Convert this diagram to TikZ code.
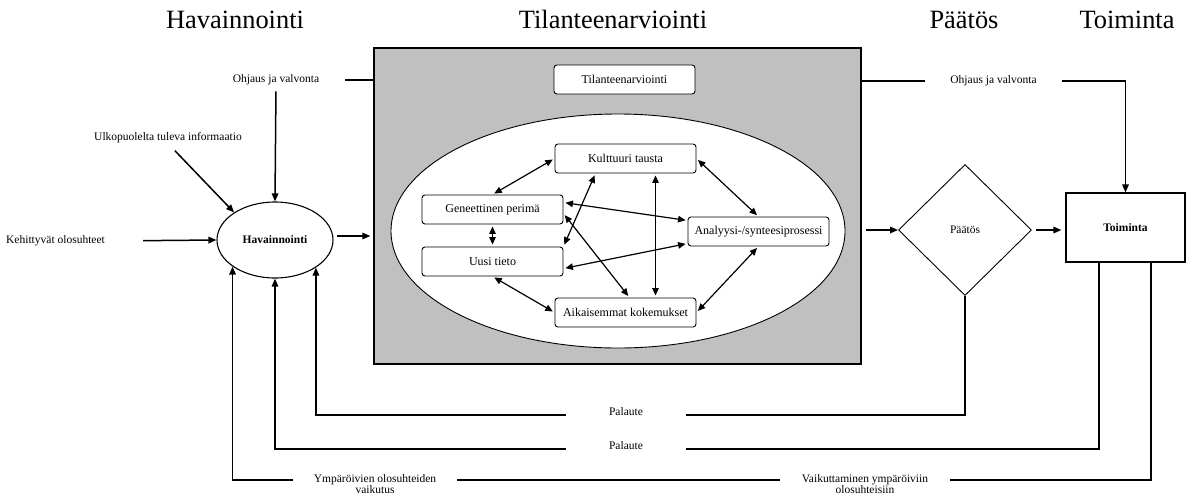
\documentclass[tikz,border=0pt]{standalone}
\usepackage{fontspec}
\setmainfont{Liberation Serif}
\usetikzlibrary{shapes.geometric,arrows.meta}
\definecolor{boxgray}{HTML}{C0C0C0}
\begin{document}
\begin{tikzpicture}[x=1pt,y=-1pt,
    every node/.style={font=\fontsize{11.5}{13}\selectfont},
    headline/.style={font=\fontsize{26.4}{30}\selectfont, anchor=base},
    factor/.style={draw, fill=white, rounded corners=3pt, line width=0.9pt,
      minimum width=141pt, minimum height=29pt, inner sep=0pt,
      font=\fontsize{12}{14}\selectfont},
    gaplabel/.style={inner sep=0pt},
    heavy/.style={font=\fontsize{11.5}{13}\selectfont\bfseries},
    flow/.style={line width=1.5pt, -{Triangle[length=8pt,width=6.5pt]}},
    wire/.style={line width=1.5pt},
    twoway/.style={line width=1.2pt, shorten <=2pt, shorten >=2pt,
      {Triangle[length=7.5pt,width=6.5pt]}-{Triangle[length=7.5pt,width=6.5pt]}}]
      \useasboundingbox (0,0) rectangle (1196,499);
      \draw
        (235,28) node[headline] (t1) {Havainnointi}
        (613,28) node[headline] (t2) {Tilanteenarviointi}
        (964,28) node[headline] (t3) {Päätös}
        (1127,28) node[headline] (t4) {Toiminta};
      % situation assessment block
      \node[draw, line width=1.3pt, fill=boxgray, minimum width=487pt,
        minimum height=316pt] (tbox) at (617.5,206) {};
      \node[factor] (tlab) at (624.5,79.5) {Tilanteenarviointi};
      \node[draw, ellipse, fill=white, line width=0.9pt, minimum width=454pt,
        minimum height=234pt] (oval) at (618,231) {};
      \node[factor] (kult) at (625.5,158.5) {Kulttuuri tausta};
      \node[factor] (gen) at (492.5,209.5) {Geneettinen perimä};
      \node[factor] (uusi) at (492.5,261.5) {Uusi tieto};
      \node[factor] (anal) at (758.5,231.5) {Analyysi-/synteesiprosessi};
      \node[factor] (aik) at (625.5,312.5) {Aikaisemmat kokemukset};
      % main chain
      \node[draw, ellipse, heavy, line width=1.1pt, inner sep=0pt,
        minimum width=116pt, minimum height=76pt] (hav) at (275,240) {Havainnointi};
      \node[draw, diamond, aspect=1, inner sep=0pt, line width=0.9pt,
        minimum width=133pt, minimum height=131pt] (paat) at (965,230) {Päätös};
      \node[draw, heavy, line width=1.1pt, minimum width=119pt,
        minimum height=69pt] (toim) at (1125.5,227.5) {Toiminta};
      % labels on the wires
      \node[gaplabel, minimum width=138pt] (ohjv) at (276,80) {Ohjaus ja valvonta};
      \node[gaplabel, minimum width=137pt] (ohjo) at (993.5,81) {Ohjaus ja valvonta};
      \node[gaplabel] (ulko) at (168,138) {Ulkopuolelta tuleva informaatio};
      \node[gaplabel] (kehi) at (55.5,241) {Kehittyvät olosuhteet};
      \node[gaplabel, minimum width=120pt, anchor=base] (pal1) at (626,415) {Palaute};
      \node[gaplabel, minimum width=120pt, anchor=base] (pal2) at (626,449) {Palaute};
      \node[gaplabel, minimum width=164pt, label distance=2pt,
        label={[gaplabel]below:vaikutus}] (ympv) at (375,480) {Ympäröivien olosuhteiden};
      \node[gaplabel, minimum width=170pt, label distance=2pt,
        label={[gaplabel]below:olosuhteisiin}] (vaik) at (865,480) {Vaikuttaminen ympäröiviin};
      \begin{scope}[twoway]
        \draw (kult.west) to (gen.north);
        \draw ([xshift=-30pt]kult.south) to (uusi.north east);
        \draw ([xshift=30pt]kult.south) to ([xshift=30pt]aik.north);
        \draw (kult.east) to (anal.north);
        \draw ([yshift=7pt]gen.east) to ([yshift=11pt]anal.west);
        \draw ([yshift=-4pt]gen.east) to ([xshift=4pt]aik.north);
        \draw (gen.south) to (uusi.north);
        \draw ([yshift=-7pt]uusi.east) to ([yshift=-12pt]anal.west);
        \draw (uusi.south) to (aik.west);
        \draw (anal.south) to (aik.east);
      \end{scope}
      \begin{scope}[flow]
        \draw[shorten <=38pt] (kehi.east) to (hav.west);
        \draw[shorten <=10pt] (ulko.south) to (hav.146);
        \draw[shorten <=6pt] (ohjv.south) to (hav.north);
        \draw[shorten <=3pt, shorten >=3pt] ([yshift=4pt]hav.east) to ([yshift=4pt]hav.east -| tbox.west);
        \draw[shorten <=4pt] (tbox.east |- paat.west) to (paat.west);
        \draw[shorten <=4pt, shorten >=4pt] (paat.east) to (paat.east -| toim.west);
        \draw (ohjo.east) -| (toim.north);
        \draw (pal1.base west) -| (hav.-34.5);
        \draw (pal2.base west) -| (hav.south);
        \draw (ympv.west) -| (hav.-148.2);
      \end{scope}
      \begin{scope}[wire]
        \draw (ohjv.east) to (ohjv.east -| tbox.west);
        \draw (tbox.east |- ohjo.west) to (ohjo.west);
        \draw (paat.south) |- (pal1.base east);
        \draw ([xshift=-26.5pt]toim.south) |- (pal2.base east);
        \draw ([xshift=25.5pt]toim.south) |- (vaik.east);
        \draw (vaik.west) to (ympv.east);
      \end{scope}
    \end{tikzpicture}
\end{document}
